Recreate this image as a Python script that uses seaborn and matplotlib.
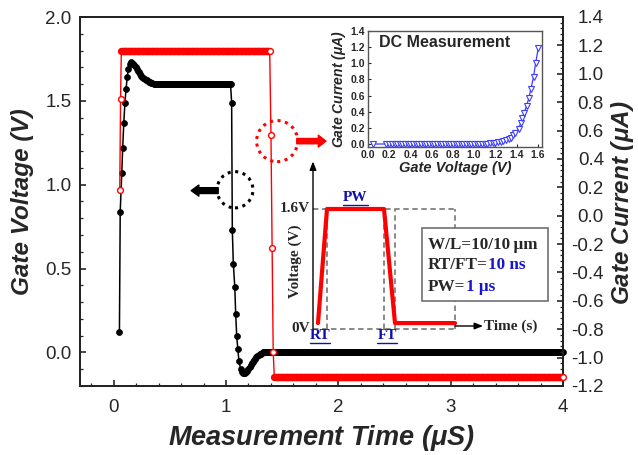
import numpy as np
import pandas as pd
import matplotlib
matplotlib.use("Agg")
import matplotlib.pyplot as plt
import seaborn as sns
from matplotlib.patches import Ellipse, Rectangle
from matplotlib.ticker import MultipleLocator, AutoMinorLocator

# ---------------- data ----------------
# Gate voltage (V) vs measurement time (us) - black, filled circles
gv_rise_t = [0.051, 0.058, 0.072, 0.080, 0.090, 0.100, 0.110, 0.120, 0.130, 0.142, 0.155,
             0.165, 0.175, 0.185, 0.195, 0.205, 0.215, 0.225, 0.235, 0.245, 0.255, 0.265,
             0.275, 0.285, 0.295, 0.305, 0.315, 0.325, 0.335, 0.345, 0.355, 0.365, 0.375]
gv_rise_v = [0.12, 0.84, 1.07, 1.22, 1.37, 1.49, 1.57, 1.64, 1.69, 1.72, 1.73,
             1.728, 1.72, 1.712, 1.70, 1.69, 1.68, 1.67, 1.66, 1.65, 1.643, 1.637,
             1.632, 1.627, 1.622, 1.617, 1.613, 1.61, 1.607, 1.605, 1.603, 1.60, 1.60]
gv_plateau = 1.60          # 0.38 .. 1.04 us
gv_plateau_span = (0.38, 1.04)
gv_fall_t = [1.050, 1.056, 1.065, 1.078, 1.086, 1.095, 1.105, 1.115, 1.130, 1.140, 1.150,
             1.160, 1.170, 1.180, 1.190, 1.200, 1.210, 1.220, 1.230, 1.240, 1.250, 1.260,
             1.270, 1.280, 1.290, 1.300, 1.310, 1.320, 1.330, 1.340, 1.350, 1.360]
gv_fall_v = [1.49, 0.73, 0.53, 0.39, 0.23, 0.10, 0.02, -0.05, -0.10, -0.115, -0.122,
             -0.125, -0.123, -0.117, -0.108, -0.098, -0.088, -0.076, -0.064, -0.054, -0.045, -0.037,
             -0.03, -0.023, -0.017, -0.012, -0.008, -0.004, 0.0, 0.003, 0.005, 0.005]
gv_base = 0.005            # 1.37 .. 4.0 us
gv_base_span = (1.37, 4.0)

# Gate current (uA) vs measurement time (us) - red, open circles
cur_rise_t = [0.054, 0.061, 0.068]
cur_rise_i = [0.18, 0.82, 1.16]
cur_high = 1.16            # 0.073 .. 1.39 us
cur_high_span = (0.073, 1.39)
cur_fall_t = [1.40, 1.41, 1.42, 1.43]
cur_fall_i = [0.57, -0.225, -0.96, -1.14]
cur_low = -1.14            # 1.435 .. 4.0 us
cur_low_span = (1.435, 4.0)

# DC measurement inset: gate current (uA) vs gate voltage (V)
dc_v = [0.05, 0.17, 0.20, 0.225, 0.25, 0.275, 0.30, 0.325, 0.35, 0.375, 0.40, 0.425, 0.45,
        0.475, 0.50, 0.525, 0.55, 0.575, 0.60, 0.625, 0.65, 0.675, 0.70, 0.725, 0.75,
        0.775, 0.80, 0.825, 0.85, 0.875, 0.90, 0.925, 0.95, 0.975, 1.00, 1.025, 1.05,
        1.075, 1.10, 1.125, 1.15, 1.175, 1.20, 1.225, 1.25, 1.275, 1.30, 1.325, 1.345,
        1.37, 1.39, 1.42, 1.44, 1.456, 1.47, 1.494, 1.516, 1.535, 1.56, 1.58, 1.605]
dc_i = [0.0, 0.0, 0.0, 0.0, 0.0, 0.0, 0.0, 0.0, 0.0, 0.0, 0.0, 0.0, 0.0,
        0.0, 0.0, 0.0, 0.0, 0.0, 0.0, 0.0, 0.0, 0.0, 0.0, 0.0, 0.0,
        0.0, 0.0, 0.0, 0.0, 0.0, 0.0, 0.0, 0.0, 0.0, 0.001, 0.001, 0.002,
        0.003, 0.004, 0.006, 0.008, 0.011, 0.015, 0.02, 0.027, 0.036, 0.047, 0.06, 0.075,
        0.11, 0.14, 0.19, 0.26, 0.32, 0.38, 0.47, 0.57, 0.68, 0.83, 1.00, 1.19]

# Schematic pulse (arbitrary time units, volts)
pulse_t = [0.5, 1.4, 7.1, 8.2, 14.2]
pulse_v = [0.04, 1.6, 1.6, 0.04, 0.04]
pulse_marks_t = [1.4, 7.1, 8.2, 14.2]
pulse_high = 1.6


def sampled(span, level, dt=0.005):
    t = np.round(np.arange(span[0], span[1] + dt / 2, dt), 4)
    return list(t), [level] * len(t)


pt, pv = sampled(gv_plateau_span, gv_plateau)
bt, bv = sampled(gv_base_span, gv_base)
volt_df = pd.DataFrame({"t": gv_rise_t + pt + gv_fall_t + bt,
                        "v": gv_rise_v + pv + gv_fall_v + bv})
ht, hv = sampled(cur_high_span, cur_high, 0.004)
lt, lv = sampled(cur_low_span, cur_low, 0.004)
cur_df = pd.DataFrame({"t": cur_rise_t + ht + cur_fall_t + lt,
                       "i": cur_rise_i + hv + cur_fall_i + lv})
dc_df = pd.DataFrame({"v": dc_v, "i": dc_i})

# ---------------- style ----------------
sns.set_style("ticks")
plt.rcParams["font.family"] = ["Liberation Sans", "DejaVu Sans"]
plt.rcParams["axes.unicode_minus"] = False
plt.rcParams["mathtext.fontset"] = "custom"
plt.rcParams["mathtext.it"] = "Liberation Sans:italic:bold"
plt.rcParams["mathtext.rm"] = "Liberation Sans:bold"
SERIF = ["Liberation Serif", "DejaVu Serif"]

W, H = 638, 455
fig = plt.figure(figsize=(W / 100, H / 100), dpi=100)


def px_box(x0, y0, x1, y1):
    return [x0 / W, 1 - y1 / H, (x1 - x0) / W, (y1 - y0) / H]


ax = fig.add_axes(px_box(80, 17, 563, 386))
ax2 = ax.twinx()

sns.lineplot(data=volt_df, x="t", y="v", ax=ax, color="black", marker="o",
             markersize=4.3, markeredgecolor="black", markeredgewidth=0.5,
             linewidth=1.1, estimator=None, sort=False, clip_on=False, zorder=3)
sns.lineplot(data=cur_df, x="t", y="i", ax=ax2, color="#ff0000", marker="o",
             markersize=4.2, markerfacecolor="white", markeredgecolor="#ff0000",
             markeredgewidth=1.0, linewidth=1.0, estimator=None, sort=False,
             clip_on=False, zorder=3)

ax.set_xlim(-0.3, 4.0)
ax.set_ylim(-0.2, 2.0)
ax2.set_ylim(-1.2, 1.4)

ax.xaxis.set_major_locator(MultipleLocator(1))
ax.xaxis.set_minor_locator(MultipleLocator(0.2))
ax.yaxis.set_major_locator(MultipleLocator(0.5))
ax.yaxis.set_minor_locator(MultipleLocator(0.1))
ax.yaxis.set_major_formatter(plt.FormatStrFormatter("%.1f"))
ax2.yaxis.set_major_locator(MultipleLocator(0.2))
ax2.yaxis.set_minor_locator(AutoMinorLocator(5))
ax2.yaxis.set_major_formatter(plt.FormatStrFormatter("%.1f"))

for a in (ax, ax2):
    for s in a.spines.values():
        s.set_linewidth(1.3)
        s.set_color("#222222")
ax.tick_params(axis="both", which="major", direction="in", length=4, width=1.2,
               labelsize=13.5, pad=9, top=False, right=False)
ax.tick_params(axis="both", which="minor", direction="in", length=2.2, width=0.9,
               top=False, right=False)
ax.tick_params(axis="y", which="major", pad=6)
ax2.tick_params(axis="y", which="major", direction="in", length=4.5, width=1.2,
                labelsize=13.5, pad=29.5)
ax2.tick_params(axis="y", which="minor", direction="in", length=2.2, width=0.9)
for lbl in ax2.get_yticklabels():
    lbl.set_ha("right")

ax.set_xlabel("Measurement Time ($\\mu$S)", fontsize=19.5, fontweight="bold", fontstyle="italic")
ax.set_ylabel("Gate Voltage (V)", fontsize=17.5, fontweight="bold", fontstyle="italic")
ax2.set_ylabel("Gate Current ($\\mu$A)", fontsize=17.5, fontweight="bold", fontstyle="italic")
ax.xaxis.label.set_va("center")
ax.yaxis.label.set_va("center")
ax2.yaxis.label.set_va("center")
ax.xaxis.set_label_coords((321 - 80) / 483, (386 - 438) / 369)
ax.yaxis.set_label_coords((23 - 80) / 483, (386 - 202) / 369)
ax2.yaxis.set_label_coords((623 - 80) / 483, (386 - 203) / 369)

# dotted circles and arrows
ax.add_patch(Ellipse((1.08, 0.97), 0.32, 0.216, fill=False, ec="black", lw=2.2,
                     ls=(0, (1, 1.5)), zorder=4))
ax.annotate("", xy=(0.69, 0.965), xytext=(0.93, 0.965),
            arrowprops=dict(arrowstyle="simple,head_length=0.55,head_width=0.8,tail_width=0.42",
                            color="black", shrinkA=0, shrinkB=0))
ax.add_patch(Ellipse((1.455, 1.26), 0.366, 0.245, fill=False, ec="#ff0000", lw=2.2,
                     ls=(0, (1, 1.5)), zorder=4))
ax.annotate("", xy=(1.89, 1.26), xytext=(1.63, 1.26),
            arrowprops=dict(arrowstyle="simple,head_length=0.55,head_width=0.85,tail_width=0.38",
                            color="#ff0000", shrinkA=0, shrinkB=0))

# ---------------- DC inset ----------------
axi = fig.add_axes(px_box(368, 31, 542, 147))
sns.lineplot(data=dc_df, x="v", y="i", ax=axi, color="#3c3cff", marker="v",
             markersize=4, markerfacecolor="white", markeredgecolor="#3c3cff",
             markeredgewidth=0.8, linewidth=0.9, estimator=None, sort=False)
axi.set_xlim(0, 1.64)
axi.set_ylim(-0.037, 1.4)
axi.xaxis.set_major_locator(MultipleLocator(0.2))
axi.yaxis.set_major_locator(MultipleLocator(0.2))
axi.xaxis.set_major_formatter(plt.FormatStrFormatter("%.1f"))
axi.yaxis.set_major_formatter(plt.FormatStrFormatter("%.1f"))
axi.tick_params(axis="both", direction="in", length=2, width=0.8, labelsize=7.5, pad=2)
for lbl in axi.get_xticklabels() + axi.get_yticklabels():
    lbl.set_fontweight("bold")
for s in axi.spines.values():
    s.set_linewidth(1.0)
    s.set_color("#555555")
axi.set_xlabel("Gate Voltage (V)", fontsize=10.5, fontweight="bold", fontstyle="italic", labelpad=1)
axi.set_ylabel("Gate Current ($\\mu$A)", fontsize=10, fontweight="bold", fontstyle="italic", labelpad=2)
axi.text(0.063, 0.9, "DC Measurement", transform=axi.transAxes, fontsize=11.5,
         fontweight="bold", va="center", ha="left")

# ---------------- pulse schematic ----------------
axs = fig.add_axes(px_box(313, 160, 560, 326))
axs.set_xlim(0, 24.7)
axs.set_ylim(0, 2.27)
axs.axis("off")
axs.patch.set_alpha(0)
dash = dict(color="#808080", lw=1.3, ls=(0, (3, 2)), clip_on=False, zorder=2)
axs.plot([0, pulse_marks_t[-1]], [pulse_high, pulse_high], **dash)
axs.plot([0, pulse_marks_t[-1]], [-0.04, -0.04], **dash)
for tm in pulse_marks_t:
    axs.plot([tm, tm], [-0.04, pulse_high], **dash)
sns.lineplot(x=pulse_t, y=pulse_v, ax=axs, color="#ff0000", linewidth=3.0,
             estimator=None, sort=False, zorder=4, clip_on=False)
axs.set_xlabel("")
axs.set_ylabel("")
axs.annotate("", xy=(0, 2.25), xytext=(0, -0.06),
             arrowprops=dict(arrowstyle="-|>,head_length=0.5,head_width=0.2", color="black",
                             lw=1.0, shrinkA=0, shrinkB=0))
axs.annotate("", xy=(17.0, 0.0), xytext=(14.2, 0.0),
             arrowprops=dict(arrowstyle="-|>,head_length=0.5,head_width=0.2", color="black",
                             lw=1.0, shrinkA=0, shrinkB=0))
sch = dict(family=SERIF, fontweight="bold", fontsize=11)
axs.text(-0.3, 1.6, "1.6V", ha="right", va="center", **sch)
axs.text(-0.3, -0.03, "0V", ha="right", va="center", **sch)
axs.text(-1.8, 0.88, "Voltage (V)", ha="center", va="center", rotation=90, **sch)
axs.text(17.1, 0.0, "Time (s)", ha="left", va="center", **sch)
blue_lab = dict(family=SERIF, fontweight="bold", fontsize=11, color="#1010b0")
for txt, tx, ty, u0, u1, uy in [("PW", 4.25, 1.76, 3.0, 5.5, 1.65),
                                ("RT", 0.7, -0.13, -0.3, 1.7, -0.23),
                                ("FT", 7.4, -0.13, 6.4, 8.4, -0.23)]:
    axs.text(tx, ty, txt, ha="center", va="center", **blue_lab)
    axs.plot([u0, u1], [uy, uy], color="#1010b0", lw=1.0, clip_on=False)

axs.add_patch(Rectangle((10.9, 0.34), 12.6, 1.0, fc="white", ec="#707070", lw=1.2,
                        zorder=5, clip_on=False))
box_font = dict(family=SERIF, fontweight="bold", fontsize=12.3, zorder=6)
axs.text(11.5, 1.11, "W/L=10/10\u2009\u03bcm", ha="left", va="center", **box_font)
t_rt = axs.text(11.5, 0.83, "RT/FT=", ha="left", va="center", **box_font)
axs.annotate("10 ns", xy=(1, 0), xycoords=t_rt, ha="left", va="bottom", color="#1515d0",
             **box_font)
t_pw = axs.text(11.5, 0.54, "PW=", ha="left", va="center", **box_font)
axs.annotate("1 \u03bcs", xy=(1, 0), xycoords=t_pw, ha="left", va="bottom", color="#1515d0",
             **box_font)

fig.savefig("out.png", dpi=100)
